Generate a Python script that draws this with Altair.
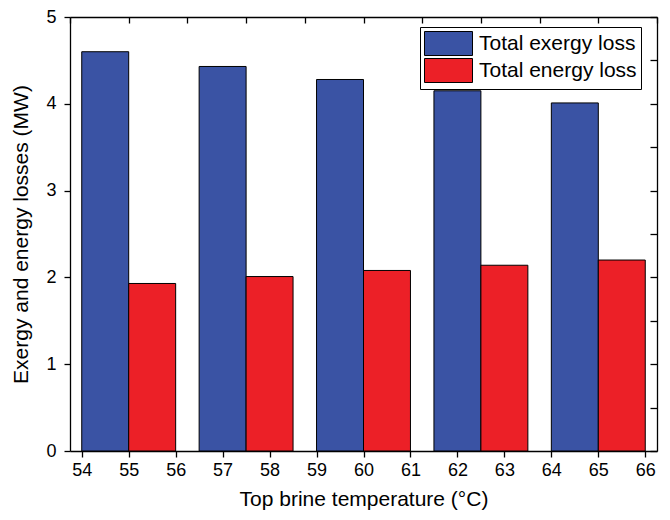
import altair as alt
import pandas as pd

temps = [55, 57.5, 60, 62.5, 65]
exergy_loss = [4.60, 4.43, 4.28, 4.15, 4.01]
energy_loss = [1.93, 2.01, 2.08, 2.14, 2.20]
series = ["Total exergy loss", "Total energy loss"]
colors = ["#3A53A4", "#EC2027"]

rows = []
for t, ex, en in zip(temps, exergy_loss, energy_loss):
    rows.append({"t": t, "series": series[0], "value": ex, "side": -1})
    rows.append({"t": t, "series": series[1], "value": en, "side": 0})
df = pd.DataFrame(rows)

W, H = 587, 434
FONT = "Liberation Sans"
xdom = [53.75, 66.25]

base = alt.Chart(df).transform_calculate(
    x0="datum.t + datum.side", x1="datum.t + datum.side + 1"
)

xscale = alt.Scale(domain=xdom, nice=False, zero=False)
yscale = alt.Scale(domain=[0, 5], nice=False)

bottom_vals = [54 + 0.5 * i for i in range(25)]
left_vals = [0.5 * i for i in range(11)]
top_vals = [53.75 + 1.25 * i for i in range(11)]

bars = base.mark_bar(stroke="black", strokeWidth=1).encode(
    x=alt.X("x0:Q", scale=xscale, title="Top brine temperature (°C)",
            axis=alt.Axis(orient="bottom", values=bottom_vals, format="d",
                          labelExpr="datum.value % 1 === 0 ? datum.label : ''",
                          tickSize={"condition": {"test": "datum.value % 1 === 0", "value": 6}, "value": 4},
                          labelPadding=4, titlePadding=9, grid=False)),
    x2="x1:Q",
    y=alt.Y("value:Q", scale=yscale, title="Exergy and energy losses (MW)",
            axis=alt.Axis(orient="left", values=left_vals, format="d",
                          labelExpr="datum.value % 1 === 0 ? datum.label : ''",
                          tickSize={"condition": {"test": "datum.value % 1 === 0", "value": 6}, "value": 4},
                          labelPadding=8, titlePadding=14, grid=False)),
    y2=alt.datum(0),
    color=alt.Color("series:N", scale=alt.Scale(domain=series, range=colors),
                    legend=alt.Legend(orient="none", legendX=350, legendY=10, title=None,
                                      symbolType="M-1,-1H3V1H-1Z", symbolSize=576,
                                      symbolStrokeColor="black", symbolStrokeWidth=1,
                                      labelFontSize=21, labelFont=FONT, labelOffset=30,
                                      labelColor="black",
                                      strokeColor="black", padding=4, rowPadding=-3,
                                      fillColor="white")),
)

frame = base.mark_bar(opacity=0).encode(
    x=alt.X("x0:Q", scale=xscale, title=None,
            axis=alt.Axis(orient="bottom", offset=-H, values=top_vals, labels=False,
                          tickSize=6, grid=False)),
    x2="x1:Q",
    y=alt.Y("value:Q", scale=yscale, title=None,
            axis=alt.Axis(orient="left", offset=-W, values=left_vals, labels=False,
                          tickSize=7, grid=False)),
    y2=alt.datum(0),
)

chart = alt.layer(bars, frame).resolve_axis(x="independent", y="independent").properties(
    width=W, height=H,
    autosize=alt.AutoSizeParams(type="none"),
    padding={"left": 62, "top": 9, "right": 5, "bottom": 61},
).configure_axis(
    labelFont=FONT, titleFont=FONT, labelFontSize=18, titleFontSize=21,
    labelColor="black", titleColor="black", titleFontWeight="normal",
    domainColor="black", tickColor="black", domainWidth=1.3, tickWidth=1.3,
).configure_view(stroke=None)

chart.save("out.html", embed_options={"renderer": "svg", "actions": False})
